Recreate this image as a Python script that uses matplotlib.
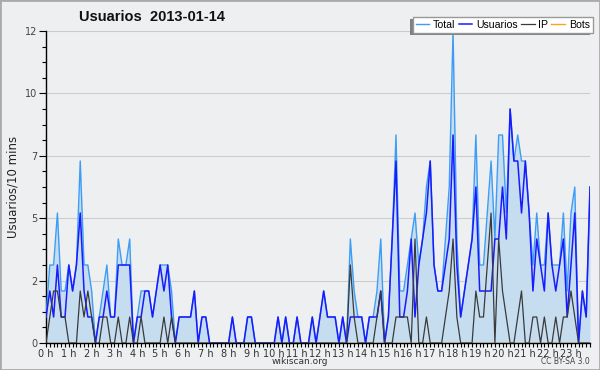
import matplotlib
matplotlib.use("Agg")
import matplotlib.pyplot as plt
from matplotlib.patches import Rectangle
import numpy as np

# 10-minute slots for 2013-01-14 (144 values)
usuarios = [1, 2, 1, 3, 1, 1, 3, 2, 3, 5, 2, 1,
            1, 0, 1, 1, 2, 1, 1, 3, 3, 3, 3, 0,
            1, 1, 2, 2, 1, 2, 3, 2, 3, 1, 0, 1,
            1, 1, 1, 2, 0, 1, 1, 0, 0, 0, 0, 0,
            0, 1, 0, 0, 0, 1, 1, 0, 0, 0, 0, 0,
            0, 1, 0, 1, 0, 0, 1, 0, 0, 0, 1, 0,
            1, 2, 1, 1, 1, 0, 1, 0, 1, 1, 1, 1,
            0, 1, 1, 1, 2, 0, 1, 4, 7, 1, 1, 2,
            4, 1, 3, 4, 5, 7, 3, 2, 2, 3, 4, 8,
            3, 1, 2, 3, 4, 6, 2, 2, 2, 2, 4, 4,
            6, 4, 9, 7, 7, 5, 7, 5, 2, 4, 3, 2,
            5, 3, 2, 3, 4, 1, 3, 5, 0, 2, 1, 6]
ip = [0, 1, 2, 2, 1, 1, 0, 0, 0, 2, 1, 2,
      1, 0, 0, 1, 1, 0, 0, 1, 0, 0, 1, 0,
      0, 1, 0, 0, 0, 0, 0, 1, 0, 1, 0, 0,
      0, 0, 0, 0, 0, 0, 0, 0, 0, 0, 0, 0,
      0, 0, 0, 0, 0, 0, 0, 0, 0, 0, 0, 0,
      0, 0, 0, 0, 0, 0, 0, 0, 0, 0, 0, 0,
      0, 0, 0, 0, 0, 0, 0, 0, 3, 1, 0, 0,
      0, 0, 0, 1, 2, 0, 0, 0, 1, 1, 1, 1,
      0, 4, 0, 0, 1, 0, 0, 0, 0, 1, 2, 4,
      1, 0, 0, 0, 0, 2, 1, 1, 3, 5, 0, 4,
      2, 1, 0, 0, 1, 2, 0, 0, 1, 1, 0, 1,
      0, 0, 1, 0, 1, 1, 2, 1, 0, 0, 0, 0]
total = [1, 3, 3, 5, 2, 2, 3, 2, 3, 7, 3, 3,
         2, 0, 1, 2, 3, 1, 1, 4, 3, 3, 4, 0,
         1, 2, 2, 2, 1, 2, 3, 3, 3, 2, 0, 1,
         1, 1, 1, 2, 0, 1, 1, 0, 0, 0, 0, 0,
         0, 1, 0, 0, 0, 1, 1, 0, 0, 0, 0, 0,
         0, 1, 0, 1, 0, 0, 1, 0, 0, 0, 1, 0,
         1, 2, 1, 1, 1, 0, 1, 0, 4, 2, 1, 1,
         0, 1, 1, 2, 4, 0, 1, 4, 8, 2, 2, 3,
         4, 5, 3, 4, 6, 7, 3, 2, 2, 4, 6, 12,
         4, 1, 2, 3, 4, 8, 3, 3, 5, 7, 4, 8,
         8, 5, 9, 7, 8, 7, 7, 5, 3, 5, 3, 3,
         5, 3, 3, 3, 5, 2, 5, 6, 0, 2, 1, 6]
bots = [0] * 144

hour_labels = ["%d h" % h for h in range(24)]
ytick_vals = [0, 2.4, 4.8, 7.2, 9.6, 12]
ytick_labels = ["0", "2", "5", "7", "10", "12"]

plt.rcParams["font.family"] = ["DejaVu Sans"]

bg = "#eeeff0"
fig = plt.figure(figsize=(6, 3.7), dpi=100, facecolor=bg)
ax = fig.add_axes([46 / 600, 27 / 370, 544 / 600, 312 / 370])
ax.set_facecolor(bg)

x = np.arange(len(total))
ax.fill_between(x, total, color="#c6ddf0", lw=0, zorder=1)
ax.plot(x, bots, color="#ffa020", lw=1, label="Bots", zorder=2)
ax.plot(x, total, color="#3d9df5", lw=1, label="Total", zorder=3)
ax.plot(x, usuarios, color="#1a1aff", lw=1.1, label="Usuarios", zorder=4)
ax.plot(x, ip, color="#3a3a3a", lw=0.9, label="IP", zorder=5)

ax.set_xlim(0, 143)
ax.set_ylim(0, 12)
ax.set_xticks(np.arange(0, 144, 6))
ax.set_xticklabels(hour_labels, fontsize=7, color="#333333")
ax.set_xticks(np.arange(0, 144), minor=True)
ax.set_yticks(ytick_vals)
ax.set_yticklabels(ytick_labels, fontsize=7, color="#444444")
ax.set_yticks(np.arange(0, 12.01, 0.6), minor=True)
ax.tick_params(axis="x", which="both", length=3, width=0.8, pad=1)
ax.tick_params(axis="y", which="major", length=5, width=0.8, pad=1)
ax.tick_params(axis="y", which="minor", length=3, width=0.8)
ax.grid(axis="y", which="major", color="#cccccc", lw=0.8)
ax.set_axisbelow(True)
for s in ["top", "right"]:
    ax.spines[s].set_visible(False)
ax.spines["left"].set_linewidth(1)
ax.spines["bottom"].set_linewidth(1)

ax.set_ylabel("Usuarios/10 mins", fontsize=8.5, color="#222222")
ax.yaxis.set_label_coords(-26 / 544, 0.5)

fig.text(152 / 600, 1 - 17 / 370, "Usuarios  2013-01-14", fontsize=10.5,
         fontweight="bold", family="Liberation Sans",
         ha="center", va="center", color="#111111")
fig.text(300 / 600, 1 - 362 / 370, "wikiscan.org", fontsize=6.5,
         ha="center", va="center", color="#333333")
fig.text(590 / 600, 1 - 362 / 370, "CC BY-SA 3.0", fontsize=5.5,
         ha="right", va="center", color="#444444")

handles, labels = ax.get_legend_handles_labels()
order = [labels.index(n) for n in ["Total", "Usuarios", "IP", "Bots"]]
leg = fig.legend([handles[i] for i in order], [labels[i] for i in order],
                 loc="upper right", bbox_to_anchor=(593 / 600, 1 - 17 / 370),
                 ncol=4, frameon=True, fancybox=False,
                 prop={"family": "Liberation Sans", "size": 7.6},
                 handlelength=1.3, handletextpad=0.35, columnspacing=0.3,
                 borderpad=0.3, borderaxespad=0)
leg.get_frame().set_edgecolor("#999999")
leg.get_frame().set_facecolor("white")
leg.get_frame().set_alpha(1)
leg.set_zorder(10)

# shadow to the lower-left of the legend box
fig.canvas.draw()
bb = leg.get_window_extent().transformed(fig.transFigure.inverted())
fig.patches.append(Rectangle((bb.x0 - 3 / 600, bb.y0 - 2 / 370), bb.width, bb.height,
                             transform=fig.transFigure, facecolor="#808080",
                             edgecolor="none", zorder=9))

# light frame round the whole picture
fig.patches.append(Rectangle((0, 0), 1, 1, transform=fig.transFigure, fill=False,
                             edgecolor="#aaaaaa", lw=2, zorder=20))

fig.savefig("out.png", dpi=100, facecolor=bg)
